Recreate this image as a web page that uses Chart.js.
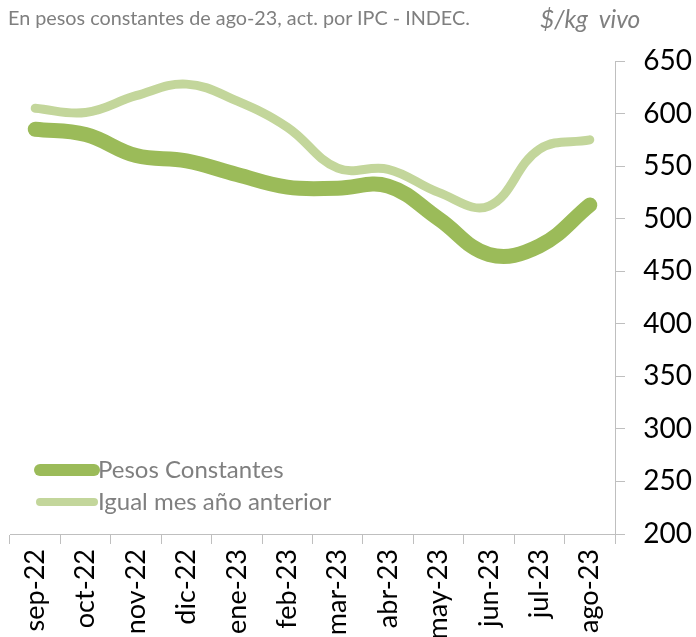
<!DOCTYPE html>
<html>
<head>
<meta charset="utf-8">
<script src="https://cdn.jsdelivr.net/npm/chart.js@4.4.0/dist/chart.umd.min.js"></script>
<style>
    body { margin: 0; background: #fff; }
    #wrap { position: relative; width: 696px; height: 637px; }
    #note { position: absolute; left: 8px; top: 5px; font: 19.8px Lato, sans-serif; color: #7f7f7f; }
    #unit { position: absolute; left: 540px; top: 4px; font: italic 24.5px Lato, sans-serif; color: #7f7f7f; }
</style>
</head>
<body>
<div id="wrap">
    <canvas id="chart"></canvas>
    <div id="note">En pesos constantes de ago-23, act. por IPC - INDEC.</div>
    <div id="unit">$/kg&nbsp; vivo</div>
</div>
<script>
// months (x axis)
const months = ['sep-22', 'oct-22', 'nov-22', 'dic-22', 'ene-23', 'feb-23',
    'mar-23', 'abr-23', 'may-23', 'jun-23', 'jul-23', 'ago-23'];

// $/kg vivo
const pesosConstantes = [585, 580, 560, 555, 542, 530, 529, 531, 500, 466, 474, 513];
const igualMesAnterior = [605, 601, 617, 628, 612, 587, 548, 547, 525, 512, 566, 575];

const yTicks = [200, 250, 300, 350, 400, 450, 500, 550, 600, 650];

const FONT = 'Lato, sans-serif';

// legend drawn inside the plot, bottom left
const insideLegend = {
    id: 'insideLegend',
    afterDraw(chart) {
        const ctx = chart.ctx;
        const area = chart.chartArea;
        const rows = [
            { ds: chart.data.datasets[0], y: area.bottom - 64, w: 12 },
            { ds: chart.data.datasets[1], y: area.bottom - 32, w: 8 },
        ];
        ctx.save();
        rows.forEach(r => {
            ctx.beginPath();
            ctx.lineCap = 'round';
            ctx.strokeStyle = r.ds.borderColor;
            ctx.lineWidth = r.w;
            ctx.moveTo(area.left + 30, r.y);
            ctx.lineTo(area.left + 84, r.y);
            ctx.stroke();
            ctx.fillStyle = '#7f7f7f';
            ctx.font = '24px ' + FONT;
            ctx.textBaseline = 'middle';
            ctx.fillText(r.ds.label, area.left + 88, r.y);
        });
        ctx.restore();
    }
};

new Chart(document.getElementById('chart').getContext('2d'), {
    type: 'line',
    data: {
        labels: months,
        datasets: [{
            label: 'Pesos Constantes',
            data: pesosConstantes,
            borderColor: '#9bbb59',
            borderWidth: 15,
            borderCapStyle: 'round',
            pointRadius: 0,
            tension: 0.4,
        }, {
            label: 'Igual mes año anterior',
            data: igualMesAnterior,
            borderColor: '#c3d69b',
            borderWidth: 9,
            borderCapStyle: 'round',
            pointRadius: 0,
            tension: 0.4,
        }],
    },
    options: {
        responsive: true,
        maintainAspectRatio: false,
        animation: false,
        layout: { padding: { left: 10, top: 61, right: 4 } },
        plugins: {
            legend: { display: false },
            tooltip: { enabled: false },
        },
        scales: {
            x: {
                offset: true,
                grid: { offset: true, drawOnChartArea: false, color: '#bfbfbf', tickLength: 10 },
                border: { color: '#bfbfbf', width: 1 },
                ticks: {
                    color: '#000',
                    font: { family: FONT, size: 27 },
                    minRotation: 90,
                    maxRotation: 90,
                    padding: 5,
                    autoSkip: false,
                },
                afterFit(scale) { scale.height = 103; },
            },
            y: {
                position: 'right',
                min: 200,
                max: 650,
                afterBuildTicks(scale) { scale.ticks = yTicks.map(v => ({ value: v })); },
                afterFit(scale) { scale.width = 77; },
                grid: { drawOnChartArea: false, color: '#bfbfbf', tickLength: 10 },
                border: { color: '#bfbfbf', width: 1 },
                ticks: {
                    color: '#000',
                    font: { family: FONT, size: 28 },
                    padding: 8,
                    crossAlign: 'far',
                },
            },
        },
    },
    plugins: [insideLegend],
});
</script>
</body>
</html>
